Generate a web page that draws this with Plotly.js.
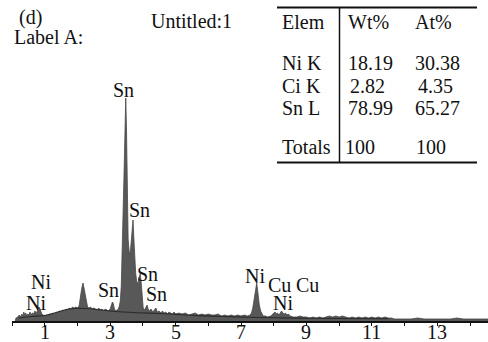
<!DOCTYPE html>
<html>
<head>
<meta charset="utf-8">
<script src="https://cdn.plot.ly/plotly-3.0.1.min.js"></script>
<style>html,body{margin:0;padding:0;background:#fff;}#chart{width:488px;height:342px;}</style>
</head>
<body>
<div id="chart"></div>
<script>
// Spectrum (energy keV, counts)
var energy = [0.1,0.12,0.18,0.22,0.26,0.3,0.33,0.36,0.39,0.42,0.45,0.48,0.52,0.55,0.58,0.62,0.66,0.7,0.73,0.76,0.79,0.82,0.85,0.88,0.91,0.95,
1.0,1.05,1.1,1.15,1.2,1.25,1.3,1.35,1.4,1.45,1.5,1.55,1.6,1.65,1.7,1.75,1.8,1.85,1.9,1.95,2.0,2.05,2.08,2.11,2.14,2.17,2.19,2.22,2.25,2.28,2.31,2.35,
2.4,2.45,2.5,2.55,2.6,2.65,2.7,2.75,2.8,2.85,2.9,2.95,3.0,3.04,3.07,3.1,3.13,3.17,3.21,3.25,3.28,3.31,3.34,3.36,3.39,3.42,3.455,3.477,3.5,3.517,3.53,
3.55,3.58,3.6,3.62,3.645,3.675,3.7,3.72,3.75,3.78,3.81,3.85,3.89,3.92,3.95,3.98,4.01,4.05,4.09,4.13,4.16,4.2,4.25,4.3,4.35,4.4,4.44,4.5,4.55,4.6,
4.65,4.7,4.75,4.8,4.85,4.9,4.95,5.0,5.1,5.2,5.3,5.4,5.5,5.6,5.7,5.8,5.9,6.0,6.1,6.2,6.3,6.4,6.5,6.6,6.7,6.8,6.9,7.0,7.1,7.2,7.28,7.32,7.36,7.4,
7.43,7.46,7.48,7.5,7.53,7.56,7.6,7.64,7.68,7.75,7.82,7.9,7.95,8.0,8.04,8.08,8.12,8.16,8.2,8.24,8.28,8.32,8.36,8.4,8.45,8.5,8.6,8.7,8.8,8.9,9.0,
9.1,9.2,9.3,9.4,9.5,9.6,9.7,9.8,9.9,10.0,10.1,10.2,10.3,10.4,10.5,10.6,10.7,10.8,10.9,11.0,11.1,11.2,11.3,11.4,11.5,11.6,11.7,11.8,12.0,12.2,
12.4,12.6,12.8,13.0,13.2,13.4,13.6,13.8,14.0,14.2,14.4,14.55];
var counts = [0,3,4,6,4,7,5,9,6,8,5,7,6,9,6,8,7,10,8,9,12,14,13,10,7,6,
5,6,5,7,6,8,7,9,8,10,9,11,10,12,11,13,12,14,13,14,13,15,20,28,34,38,35,30,24,18,14,13,
14,12,13,12,11,13,11,12,10,12,11,10,12,16,19,17,12,10,11,12,15,20,35,54,101,141,191,223,191,141,101,
82,70,66,70,82,95,101,86,62,48,40,37,44,47,38,22,13,11,14,16,12,10,12,9,11,13,9,10,8,10,
8,9,7,9,8,7,9,7,8,7,8,6,7,8,6,7,6,7,6,6,7,5,6,5,6,5,6,5,6,5,6,8,13,22,
31,37,38,33,24,16,10,7,5,5,4,5,6,8,9,7,8,6,8,10,8,7,8,6,7,5,4,4,5,4,4,
3,4,3,4,3,4,5,4,5,4,5,4,3,4,3,4,3,4,3,4,3,4,3,4,3,3,2,2,2,2,
3,2,2,2,2,2,3,2,2,2,2,2];

// Background (continuum) fit
var bgEnergy = [0.2,0.6,1.0,1.3,1.6,1.9,2.2,2.6,3.0,3.4,3.8,4.5,5.0,5.7,6.5,7.2,8.0,9.0,10.0,11.5];
var bgCounts = [3,4.5,5.5,8,11,12.5,12.5,11.5,10,9,8.3,7.5,6.6,5.4,4.5,3.8,3.2,2.8,2.5,2.2];

// Axis ticks
var tickVals = [0,1,2,3,4,5,6,7,8,9,10,11,12,13,14];
var tickLabelVals = [1,3,5,7,9,11,13];
var tickLabelText = ['1','3','5','7','9','11','13'];

// Peak labels
var peakLabels = ['Sn','Sn','Sn','Sn','Sn','Ni','Ni','Ni','Cu','Cu','Ni'];
var peakLabelE = [3.42,3.91,4.15,4.42,2.96,0.88,0.72,7.42,8.19,9.04,8.28];
var peakLabelC = [231,111,47,27,31,39,18,45,36,36,18];

// Quantification table
var tableHead = ['Elem','Wt%','At%'];
var elems = ['Ni K','Ci K','Sn L'];
var wtPct = ['18.19','2.82','78.99'];
var atPct = ['30.38','4.35','65.27'];
var totals = ['Totals','100','100'];

var FONT = 'Liberation Serif, Times New Roman, serif';
var L = 12, T = 81, W = 476, H = 240;
function P(px){ return (px - L) / W; }
function Q(py){ return (T + H - py) / H; }

var traces = [
  {x: energy, y: counts, type: 'scatter', mode: 'lines', fill: 'tozeroy',
   line: {color: '#474747', width: 0.8}, fillcolor: '#585858', hoverinfo: 'skip'},
  {x: bgEnergy, y: bgCounts, type: 'scatter', mode: 'lines',
   line: {color: '#2a2a2a', width: 1.1, shape: 'spline'}, hoverinfo: 'skip'}
];

var ann = [];
for (var i = 0; i < peakLabels.length; i++) {
  ann.push({x: peakLabelE[i], y: peakLabelC[i], xref: 'x', yref: 'y', text: peakLabels[i],
    showarrow: false, xanchor: 'center', yanchor: 'middle', font: {family: FONT, size: 20, color: '#111'}});
}
for (var k = 0; k < tickLabelVals.length; k++) {
  ann.push({x: tickLabelVals[k], y: Q(332), xref: 'x', yref: 'paper', text: tickLabelText[k],
    showarrow: false, xanchor: 'center', yanchor: 'middle', font: {family: FONT, size: 20, color: '#111'}});
}
function txt(s, px, py) {
  ann.push({x: P(px), y: Q(py), xref: 'paper', yref: 'paper', text: s, showarrow: false,
    xanchor: 'left', yanchor: 'middle', font: {family: FONT, size: 20, color: '#111'}});
}
txt('(d)', 17, 17);
txt('Label A:', 12, 37);
txt('Untitled:1', 149, 21);
var colX = [280, 346, 413];
for (var c = 0; c < 3; c++) txt(tableHead[c], colX[c], 22);
var rowY = [63, 86, 108];
for (var r = 0; r < 3; r++) {
  txt(elems[r], colX[0], rowY[r]);
  txt(wtPct[r], colX[1] + (wtPct[r].length < 5 ? 2 : 0), rowY[r]);
  txt(atPct[r], colX[2] + (atPct[r].length < 5 ? 3 : 0), rowY[r]);
}
txt(totals[0], colX[0], 147);
txt(totals[1], 343, 147);
txt(totals[2], 414, 147);

var shapes = [
  {type: 'line', xref: 'paper', yref: 'paper', x0: P(277), x1: P(477), y0: Q(7.5), y1: Q(7.5), line: {color: '#111', width: 2}},
  {type: 'line', xref: 'paper', yref: 'paper', x0: P(277), x1: P(477), y0: Q(162.5), y1: Q(162.5), line: {color: '#111', width: 2}},
  {type: 'line', xref: 'paper', yref: 'paper', x0: P(339.5), x1: P(339.5), y0: Q(7.5), y1: Q(162.5), line: {color: '#111', width: 1.5}}
];

var layout = {
  width: 488, height: 342,
  margin: {l: L, r: 0, t: T, b: 342 - T - H, pad: 0},
  paper_bgcolor: '#fff', plot_bgcolor: '#fff',
  showlegend: false,
  xaxis: {range: [0, 14.55], showgrid: false, zeroline: false, showline: true, linecolor: '#111', linewidth: 2,
    ticks: 'outside', ticklen: 3, tickwidth: 1, tickcolor: '#111',
    tickmode: 'array', tickvals: tickVals, showticklabels: false, fixedrange: true},
  yaxis: {range: [0, 240], visible: false, fixedrange: true},
  annotations: ann,
  shapes: shapes
};
Plotly.newPlot('chart', traces, layout, {staticPlot: true, displayModeBar: false});
</script>
</body>
</html>
